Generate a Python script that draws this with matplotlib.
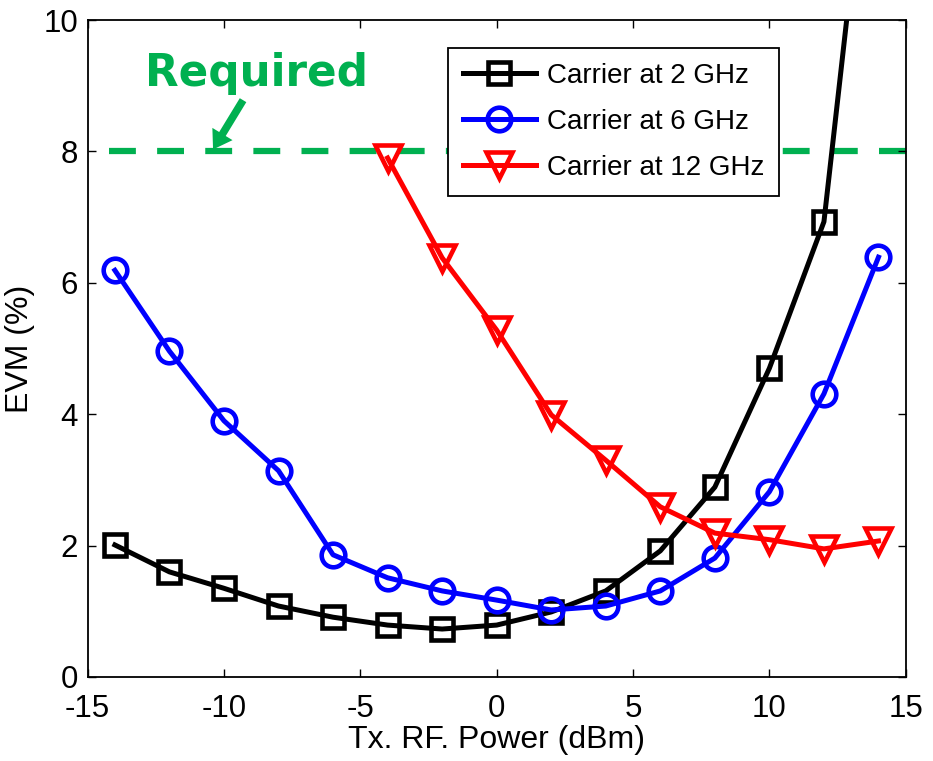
import matplotlib
matplotlib.use("Agg")
import matplotlib.pyplot as plt

power = [-14, -12, -10, -8, -6, -4, -2, 0, 2, 4, 6, 8, 10, 12, 14]
evm_2ghz = [2.01, 1.60, 1.35, 1.08, 0.91, 0.79, 0.73, 0.79, 0.99, 1.31, 1.92, 2.89, 4.70, 6.93, 14.3]
evm_6ghz = [6.19, 4.96, 3.90, 3.14, 1.86, 1.51, 1.31, 1.17, 1.02, 1.08, 1.31, 1.81, 2.82, 4.31, 6.39]
power_12 = [-4, -2, 0, 2, 4, 6, 8, 10, 12, 14]
evm_12ghz = [7.90, 6.38, 5.28, 3.99, 3.30, 2.59, 2.19, 2.09, 1.95, 2.07]
required_x = [-14.2, 15]
required_y = [8, 8]
labels = ["Carrier at 2 GHz", "Carrier at 6 GHz", "Carrier at 12 GHz"]
xticks = [-15, -10, -5, 0, 5, 10, 15]
yticks = [0, 2, 4, 6, 8, 10]

plt.rcParams['font.family'] = ['Liberation Sans', 'DejaVu Sans']
plt.rcParams['axes.unicode_minus'] = False
green = '#00B050'

fig = plt.figure(figsize=(9.33, 7.61), dpi=100)
ax = fig.add_axes([0.0939, 0.1104, 0.8769, 0.8633])

ax.plot(required_x, required_y, color=green, lw=4.5, dashes=(4.3, 3.4), zorder=1)

lw = 3.6
ax.plot(power, evm_2ghz, color='black', lw=lw, marker='s', ms=16, mfc='none',
        mec='black', mew=3.3, label=labels[0], zorder=3)
ax.plot(power, evm_6ghz, color='#0000FF', lw=lw, marker='o', ms=17, mfc='none',
        mec='#0000FF', mew=3.3, label=labels[1], zorder=3)
ax.plot(power_12, evm_12ghz, color='#FF0000', lw=lw, marker='v', ms=19, mfc='none',
        mec='#FF0000', mew=3.3, label=labels[2], zorder=3)

ax.text(-8.8, 9.0, "Required", color=green, fontsize=31.5, fontweight='bold',
        family='DejaVu Sans', ha='center', va='baseline')
ax.annotate("", xy=(-10.4, 8.03), xytext=(-9.3, 8.78),
            arrowprops=dict(arrowstyle='simple,head_length=1.3,head_width=1.7,tail_width=0.55',
                            color=green, lw=0, shrinkA=0, shrinkB=0))

ax.set_xlim(-15, 15)
ax.set_ylim(0, 10)
ax.set_xticks(xticks)
ax.set_yticks(yticks)
ax.tick_params(direction='in', top=True, right=True, length=6, width=1,
               labelsize=22.5)
ax.tick_params(axis='x', pad=12)
ax.tick_params(axis='y', pad=7)
for s in ax.spines.values():
    s.set_linewidth(1.3)
ax.set_xlabel("Tx. RF. Power (dBm)", fontsize=23, labelpad=1)
ax.set_ylabel("EVM (%)", fontsize=23, labelpad=6)

leg = ax.legend(loc='upper left', bbox_to_anchor=(0.4406, 0.958), fontsize=20,
                frameon=True, fancybox=False, edgecolor='black', framealpha=1,
                handlelength=2.6, borderpad=0.55, labelspacing=0.72,
                handletextpad=0.4, borderaxespad=0)
leg.get_frame().set_linewidth(1.3)

fig.savefig("out.png", dpi=100)
